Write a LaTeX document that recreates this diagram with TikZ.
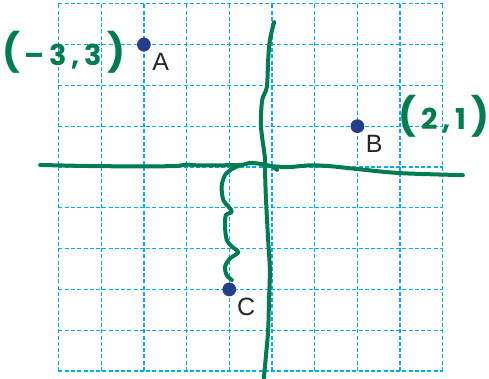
\documentclass[tikz,border=0pt]{standalone}
\usepackage{fontspec}
\setmainfont{Liberation Sans}
\newfontfamily\handfont{Poppins}
\usetikzlibrary{positioning}
\definecolor{gridcyan}{RGB}{0,174,239}
\definecolor{penGreen}{RGB}{0,125,80}
\definecolor{dotblue}{RGB}{38,60,140}
\tikzset{
  gridline/.style={gridcyan, line width=1.1pt, dash pattern=on 3.2pt off 1.8pt},
  penline/.style={penGreen, line width=3.2pt, line cap=round, line join=round},
  ptdot/.style={circle, fill=dotblue, inner sep=0pt, minimum size=11pt},
  ptlabel/.style={font=\fontsize{20}{24}\selectfont, text=black!85, inner sep=0pt, anchor=north west},
  pentext/.style={font=\handfont\bfseries\fontsize{23}{26}\selectfont, text=penGreen, inner sep=0pt},
}
\newcommand{\bigpar}[1]{{\fontsize{30}{30}\selectfont#1}}

\begin{document}
\begin{tikzpicture}[x=1.2cm, y=1.1466cm]
  \useasboundingbox (-6.370,-5.172) rectangle (5.082,4.093);
  % grid
  \foreach \i in {-5,...,4} {
    \draw[gridline] (\i,-5) -- (\i,4);
    \draw[gridline] (-5,\i) -- (4,\i);
  }
  % x axis (drawn by hand)
  \draw[penline] plot[smooth, tension=0.5] coordinates {(-5.43,0.05) (-4.03,0.02) (-2.35,0.02) (-2.01,0.06) (-1.70,0.04)
    (-0.75,0.05) (-0.52,0.10) (-0.23,0.07) (0,0.02) (0.42,0) (0.89,0.04) (1.36,0.02) (1.99,-0.05) (3.00,-0.15) (4.47,-0.20)};
  \draw[penline] (0.02,0.01) -- (0.12,-0.07);
  % y axis
  \draw[penline] plot[smooth, tension=0.5] coordinates {(0.05,3.55) (-0.05,3.11) (-0.09,2.62) (-0.12,1.96) (-0.23,1.64)
    (-0.26,1.03) (-0.19,0.42) (-0.16,0.17) (-0.16,-0.20) (-0.14,-0.81) (-0.09,-1.79) (-0.05,-2.52) (-0.07,-3.26)
    (-0.09,-4.00) (-0.14,-4.61) (-0.19,-5.17)};
  % squiggle down to C
  \draw[penline] plot[smooth, tension=0.5] coordinates {(-0.75,0.04) (-0.94,-0.05) (-1.10,-0.20) (-1.18,-0.48) (-1.14,-0.81)
    (-1.02,-0.97) (-0.94,-1.10) (-1.08,-1.18) (-1.10,-1.46) (-1.06,-1.79) (-0.94,-1.95) (-0.79,-2.09) (-0.98,-2.24)
    (-1.10,-2.44) (-1.06,-2.65) (-0.94,-2.77)};
  % points
  \node[ptdot] (A) at (-3,3) {};
  \node[ptdot] (B) at (2,1) {};
  \node[ptdot] (C) at (-1,-3) {};
  \node[ptlabel] (Alab) at ([xshift=2.5pt,yshift=-3pt]A.south east) {A};
  \node[ptlabel] (Blab) at ([xshift=2.5pt,yshift=-3pt]B.south east) {B};
  \node[ptlabel] (Clab) at ([xshift=2pt,yshift=-3pt]C.south east) {C};
  % handwritten coordinates
  \node[pentext] (Anote) at (-4.88,2.80) {\bigpar{(}\,–\,3\,,\,3\,\bigpar{)}};
  \node[pentext] (Bnote) at (4.03,1.25) {\bigpar{(}\,2\,,\,1\,\bigpar{)}};
\end{tikzpicture}
\end{document}
